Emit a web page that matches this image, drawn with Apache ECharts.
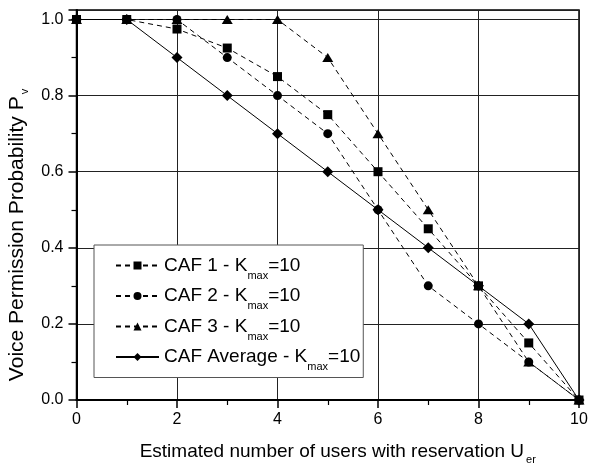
<!DOCTYPE html>
<html>
<head>
<meta charset="utf-8">
<script src="https://cdn.jsdelivr.net/npm/echarts@6/dist/echarts.min.js"></script>
<style>
  html, body { margin: 0; padding: 0; background: #fff; }
  #chart { width: 595px; height: 466px; }
</style>
</head>
<body>
<div id="chart"></div>
<script>
// Estimated number of users with reservation (x axis)
const users = [0, 1, 2, 3, 4, 5, 6, 7, 8, 9, 10];

// Voice permission probability per CAF scheme
const caf1 = [1.0, 1.0, 0.975, 0.925, 0.85, 0.75, 0.6, 0.45, 0.3, 0.15, 0.0];
const caf2 = [1.0, 1.0, 1.0, 0.9, 0.8, 0.7, 0.5, 0.3, 0.2, 0.1, 0.0];
const caf3 = [1.0, 1.0, 1.0, 1.0, 1.0, 0.9, 0.7, 0.5, 0.3, 0.1, 0.0];
const cafAvg = [1.0, 1.0, 0.9, 0.8, 0.7, 0.6, 0.5, 0.4, 0.3, 0.2, 0.0];

const seriesNames = [
  'CAF 1 - K{sub|max}=10',
  'CAF 2 - K{sub|max}=10',
  'CAF 3 - K{sub|max}=10',
  'CAF Average - K{sub|max}=10'
];

const FONT = 'Arial, "Liberation Sans", sans-serif';
const pairs = arr => users.map((u, i) => [u, arr[i]]);
const dashed = { color: '#000', width: 1, type: [5, 4] };

const titleRich = { sub: { fontFamily: FONT, fontSize: 11, lineHeight: 11, color: '#000', padding: [16, 0, 0, 2] } };

const chart = echarts.init(document.getElementById('chart'), null, { renderer: 'canvas' });

chart.setOption({
  animation: false,
  backgroundColor: '#fff',
  grid: {
    left: 76.5, right: 16, top: 10, bottom: 66,
    outerBoundsMode: 'none', containLabel: false,
    show: true, borderColor: '#000', borderWidth: 1.5, backgroundColor: 'transparent'
  },
  xAxis: {
    type: 'value', min: 0, max: 10, interval: 2,
    name: 'Estimated number of users with reservation U{sub|er}',
    nameLocation: 'middle', nameGap: 41,
    nameTextStyle: {
      fontFamily: FONT, fontSize: 19, lineHeight: 22, color: '#000',
      padding: [0, 0, 0, 20], rich: titleRich
    },
    axisLine: { show: true, onZero: false, lineStyle: { color: '#000', width: 2 } },
    axisTick: { show: true, inside: false, length: 8, lineStyle: { color: '#000', width: 1.5 } },
    minorTick: { show: true, splitNumber: 2, length: 5, lineStyle: { color: '#000', width: 1.2 } },
    axisLabel: { fontFamily: FONT, fontSize: 16, color: '#000', margin: 12 },
    splitLine: { show: true, lineStyle: { color: '#222', width: 1 } }
  },
  yAxis: {
    type: 'value', min: 0, max: 1.025, interval: 0.2,
    name: 'Voice Permission Probability P{sub|v}',
    nameLocation: 'middle', nameGap: 40, nameRotate: 90,
    nameTextStyle: {
      fontFamily: FONT, fontSize: 21, lineHeight: 22, color: '#000',
      padding: [0, 60, 0, 0], rich: titleRich
    },
    axisLine: { show: true, onZero: false, lineStyle: { color: '#000', width: 2 } },
    axisTick: { show: true, inside: false, length: 8, lineStyle: { color: '#000', width: 1.5 } },
    minorTick: { show: true, splitNumber: 2, length: 5, lineStyle: { color: '#000', width: 1.2 } },
    axisLabel: {
      fontFamily: FONT, fontSize: 16, color: '#000', margin: 13, showMaxLabel: false,
      formatter: v => (Math.abs(v / 0.2 - Math.round(v / 0.2)) < 1e-6 ? v.toFixed(1) : '')
    },
    splitLine: { show: true, lineStyle: { color: '#222', width: 1 } }
  },
  legend: {
    show: true, orient: 'vertical', left: 94, top: 245,
    backgroundColor: '#fff', borderColor: '#555', borderWidth: 1,
    padding: [5, 3, 5, 21],
    itemWidth: 43, itemHeight: 10, itemGap: -0.5,
    data: seriesNames,
    textStyle: {
      fontFamily: FONT, fontSize: 19, lineHeight: 22, color: '#000',
      rich: { sub: { fontFamily: FONT, fontSize: 11, lineHeight: 12, color: '#000', padding: [20, 0, 0, 0] } }
    }
  },
  series: [
    {
      name: seriesNames[3], type: 'line', data: pairs(cafAvg), z: 2,
      symbol: 'diamond', symbolSize: 11,
      lineStyle: { color: '#000', width: 1 }, itemStyle: { color: '#000' }
    },
    {
      name: seriesNames[0], type: 'line', data: pairs(caf1), z: 3,
      symbol: 'rect', symbolSize: 9,
      lineStyle: dashed, itemStyle: { color: '#000' }
    },
    {
      name: seriesNames[2], type: 'line', data: pairs(caf3), z: 4,
      symbol: 'triangle', symbolSize: [11, 9],
      lineStyle: dashed, itemStyle: { color: '#000' }
    },
    {
      name: seriesNames[1], type: 'line', data: pairs(caf2), z: 5,
      symbol: 'circle', symbolSize: 9,
      lineStyle: dashed, itemStyle: { color: '#000' }
    }
  ]
});
</script>
</body>
</html>
